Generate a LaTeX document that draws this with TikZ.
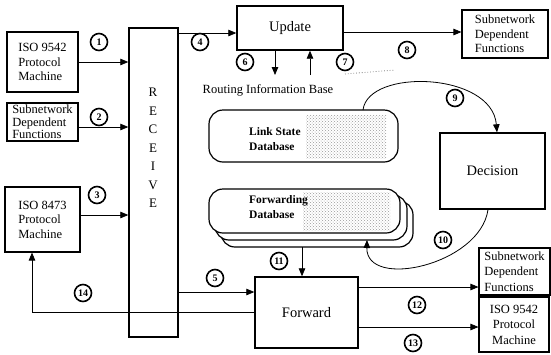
\documentclass[tikz,border=0pt]{standalone}
\usepackage{fontspec}
\setmainfont{Liberation Serif}
\usetikzlibrary{arrows.meta,patterns,calc}
\begin{document}
\begin{tikzpicture}[x=1pt,y=-1pt,
  box/.style={draw,line width=1.1pt,rectangle,inner sep=0pt,align=left,font=\fontsize{12.5}{14.5}\selectfont},
  bigbox/.style={draw,line width=1.4pt,rectangle,inner sep=0pt,font=\fontsize{14.5}{16}\selectfont},
  db/.style={draw,line width=1.2pt,rounded corners=14pt,fill=white},
  dbtext/.style={anchor=west,align=left,inner sep=0pt,font=\fontsize{11.5}{15}\selectfont\bfseries},
  num/.style={draw,circle,line width=1.6pt,minimum size=17pt,inner sep=0pt,font=\fontsize{10}{10}\selectfont\bfseries},
  arr/.style={-{Triangle[length=8pt,width=6.5pt]},line width=0.8pt},
  stip/.style={pattern=crosshatch dots,pattern color=black!40}
]
\useasboundingbox (0,0) rectangle (551,354);

% left boxes
\node[box,minimum width=71pt,minimum height=60pt] (iso1) at (42.5,62) {ISO 9542\\Protocol\\Machine};
\node[box,minimum width=71pt,minimum height=38pt,font=\fontsize{12.5}{12.5}\selectfont] (sub1) at (42.5,122) {Subnetwork\\Dependent\\Functions};
\node[box,minimum width=75pt,minimum height=65pt] (iso3) at (42.5,219.5) {ISO 8473\\Protocol\\Machine};

% receive
\node[draw,line width=1.4pt,minimum width=49pt,minimum height=309pt,inner sep=0pt] (receive) at (153.5,182.5) {};
\node[align=center,inner sep=0pt,font=\fontsize{13}{18.5}\selectfont] (rtext) at (153,148) {R\\E\\C\\E\\I\\V\\E};

% update, decision, forward
\node[bigbox,minimum width=106pt,minimum height=44pt] (update) at (290,28) {Update};
\node[bigbox,minimum width=105pt,minimum height=76pt] (decision) at (492.5,171) {Decision};
\node[bigbox,minimum width=103pt,minimum height=71pt] (forward) at (306.5,312.5) {Forward};

% right boxes
\node[box,minimum width=86pt,minimum height=48pt] (sub8) at (505,34) {Subnetwork\\Dependent\\Functions};
\node[box,minimum width=71pt,minimum height=47pt,font=\fontsize{12.5}{15.5}\selectfont] (sub12) at (514.5,271.5) {Subnetwork\\Dependent\\Functions};
\node[box,minimum width=70pt,minimum height=55pt,font=\fontsize{12.5}{15.5}\selectfont,align=center] (iso13) at (514,324.5) {ISO 9542\\Protocol\\Machine};

% routing information base
\node[inner sep=0pt,font=\fontsize{12.5}{14}\selectfont] (rib) at (268,90) {Routing Information Base};
\draw[dotted,line width=0.8pt,gray] (345,74) -- (395,70);

% link state database
\draw[db] (209,110) rectangle (398,162);
\fill[stip] (306,115) rectangle (386,158);
\coordinate (lsdbtop) at (363,110);
\node[dbtext] (lstext) at (249,139) {Link State\\Database};

% forwarding database
\draw[db] (221,201) rectangle (413,247);
\draw[db] (215,195) rectangle (407,240);
\draw[db] (209,189) rectangle (400,233);
\fill[stip] (303,192) rectangle (390,230);
\node[dbtext] (fwtext) at (249,207) {Forwarding\\Database};
\coordinate (fb1bot) at (367,240);
\coordinate (fb2bot) at (302,247);

% free ends
\coordinate (r6) at (275,75);
\coordinate (r7) at (310,75);
\coordinate (c14) at (32,312);

% arrows
\draw[arr] (iso1.east) -- (receive.west |- iso1.east);
\draw[arr] ([yshift=-5pt]sub1.east) -- (receive.west |- 0,127);
\draw[arr] ([yshift=4.5pt]iso3.east) -- (receive.west |- 0,215);
\draw[arr] (receive.east |- 0,33) -- (update.west |- 0,33);
\draw[arr] (receive.east |- 0,292) -- (forward.west |- 0,292);
\draw[arr] (update.south -| r6) -- (r6);
\draw[arr] (r7) -- (update.south -| r7);
\draw[arr] (update.east |- 0,32) -- (sub8.west |- 0,32);
\draw[arr] (lsdbtop) .. controls (368,68) and (492,72) .. (decision.north -| 497,0);
\draw[arr] (decision.south -| 488,0) .. controls (480,265) and (366,290) .. (fb1bot);
\draw[arr] (fb2bot) -- (forward.north -| fb2bot);
\draw[arr] (forward.east |- 0,287) -- (sub12.west |- 0,287);
\draw[arr] (forward.east |- 0,327) -- (iso13.west |- 0,327);
\draw[arr] (forward.west |- c14) -- (c14) -- (iso3.south -| c14);

% circled numbers
\node[num] (n1) at (99,42) {1};
\node[num] (n2) at (99,117) {2};
\node[num] (n3) at (97,195) {3};
\node[num] (n4) at (200,42) {4};
\node[num] (n5) at (215,278) {5};
\node[num] (n6) at (245,62) {6};
\node[num] (n7) at (345,62) {7};
\node[num] (n8) at (407,50) {8};
\node[num] (n9) at (455,98) {9};
\node[num] (n10) at (443,240) {10};
\node[num] (n11) at (279,261) {11};
\node[num] (n12) at (417,305) {12};
\node[num] (n13) at (413,343) {13};
\node[num] (n14) at (83,293) {14};
\end{tikzpicture}
\end{document}
